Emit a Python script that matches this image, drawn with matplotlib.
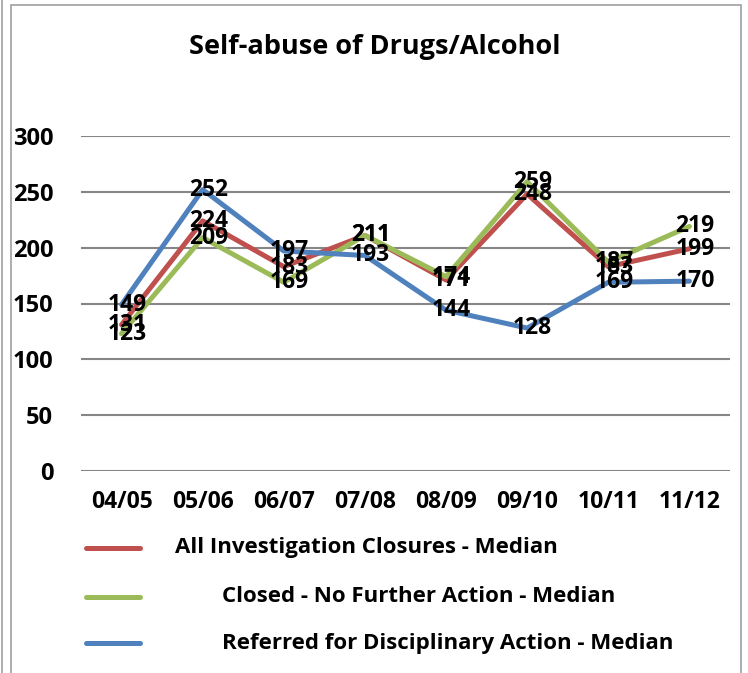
import matplotlib
matplotlib.use("Agg")
import matplotlib.pyplot as plt
from matplotlib.lines import Line2D
from matplotlib.patches import Rectangle

plt.rcParams['font.family'] = ['Open Sans', 'DejaVu Sans']
plt.rcParams['font.weight'] = 'bold'

years = ["04/05", "05/06", "06/07", "07/08", "08/09", "09/10", "10/11", "11/12"]
all_closures = [131, 224, 183, 211, 171, 248, 183, 199]
closed_nfa = [123, 209, 169, 211, 174, 259, 187, 219]
referred = [149, 252, 197, 193, 144, 128, 169, 170]

names = ["All Investigation Closures - Median",
         "Closed - No Further Action - Median",
         "Referred for Disciplinary Action - Median"]
colors = ["#C0504D", "#9BBB59", "#4F81BD"]
series = [all_closures, closed_nfa, referred]

W, H = 748, 673
fig = plt.figure(figsize=(W / 100, H / 100), dpi=100)
ax = fig.add_axes([81 / W, 1 - 471 / H, (730 - 81) / W, (471 - 136) / H])

x = list(range(len(years)))
for vals, c in zip(series, colors):
    ax.plot(x, vals, color=c, lw=3.6, solid_capstyle='round', zorder=3)

for vals in series:
    for xi, v in zip(x, vals):
        ax.annotate(str(v), (xi, v), xytext=(4, 0), textcoords='offset points',
                    ha='center', va='center', fontsize=16.5, fontweight='bold',
                    color='black', zorder=5)

ax.set_xlim(-0.5, 7.5)
ax.set_ylim(0, 300)
ax.set_yticks(range(0, 301, 50))
ax.set_xticks(x)
ax.set_xticklabels(years)
ax.grid(axis='y', color='#868686', lw=1.5)
ax.set_axisbelow(True)
for s in ax.spines.values():
    s.set_visible(False)
ax.tick_params(axis='x', length=0, labelsize=16.5, pad=14)
ax.tick_params(axis='y', length=0, labelsize=17, pad=20)
for lab in ax.get_yticklabels() + ax.get_xticklabels():
    lab.set_fontweight('bold')

fig.text(375 / W, 1 - 47 / H, "Self-abuse of Drugs/Alcohol", ha='center', va='center',
         fontsize=19.5, fontweight='bold')

# legend entries
leg_y = [548, 597, 643]
leg_x = [175, 222, 222]
for name, c, ly, lx in zip(names, colors, leg_y, leg_x):
    fig.add_artist(Line2D([86 / W, 140 / W], [1 - ly / H, 1 - ly / H], color=c, lw=3.6,
                          solid_capstyle='round'))
    fig.text(lx / W, 1 - ly / H, name, ha='left', va='center', fontsize=16, fontweight='bold')

# frame
fig.add_artist(Rectangle((11 / W, -0.05), (741 - 11) / W, 1.05 - 5 / H, fill=False,
                         edgecolor='#A0A0A0', lw=1.2, transform=fig.transFigure))
fig.add_artist(Line2D([2 / W, 2 / W], [0, 1], color='#A0A0A0', lw=1.2))

fig.savefig("out.png", dpi=100)
